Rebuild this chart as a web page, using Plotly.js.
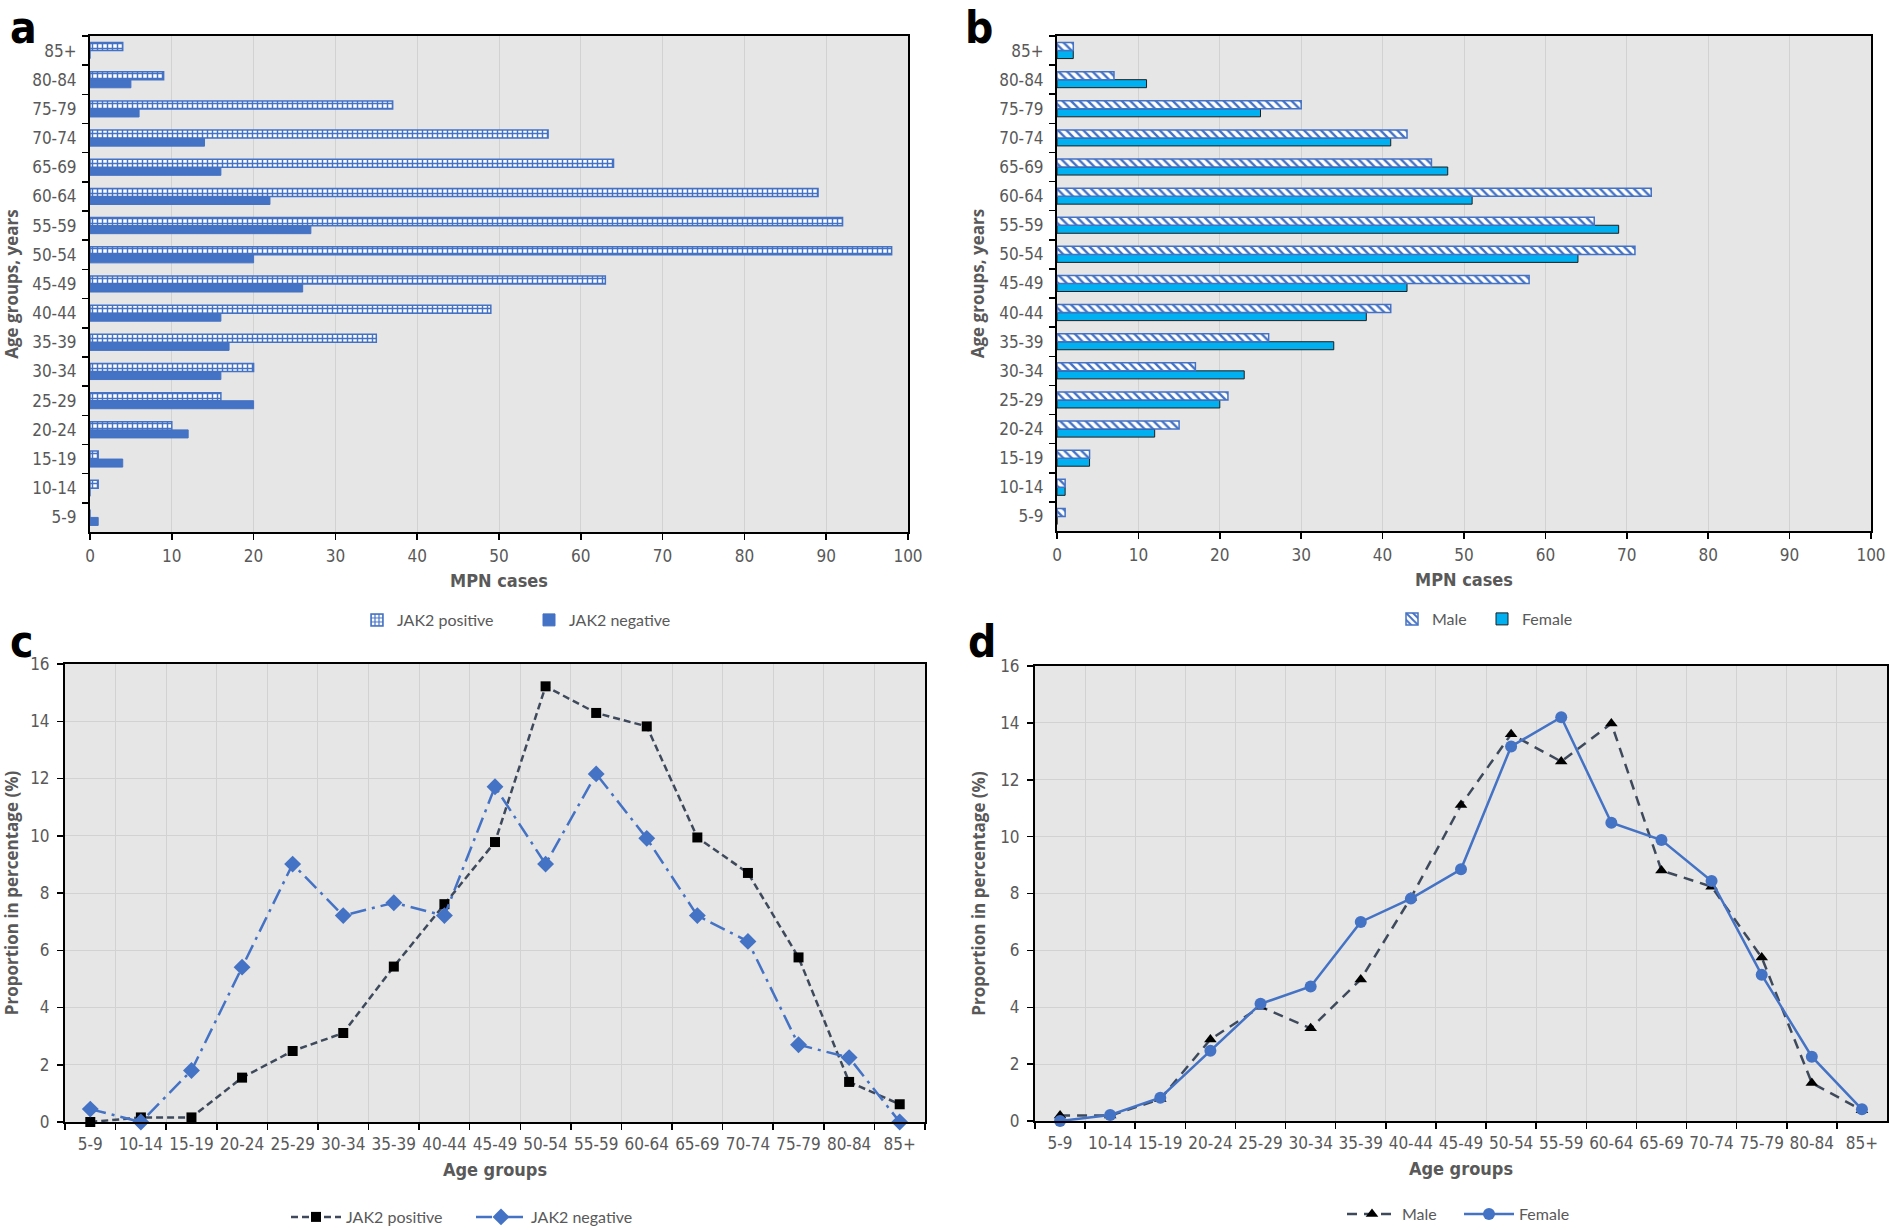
<!DOCTYPE html>
<html>
<head>
<meta charset="utf-8">
<script src="https://cdn.plot.ly/plotly-3.0.1.min.js"></script>
<style>
  html, body { margin: 0; padding: 0; background: #ffffff; }
  #chart { width: 1890px; height: 1230px; }
</style>
</head>
<body>
<div id="chart"></div>
<script>
// ---------- data ----------
const ageGroups = ['5-9','10-14','15-19','20-24','25-29','30-34','35-39','40-44','45-49','50-54','55-59','60-64','65-69','70-74','75-79','80-84','85+'];

// panel a: MPN cases by JAK2 status
const jak2PositiveCases = [0, 1, 1, 10, 16, 20, 35, 49, 63, 98, 92, 89, 64, 56, 37, 9, 4];
const jak2NegativeCases = [1, 0, 4, 12, 20, 16, 17, 16, 26, 20, 27, 22, 16, 14, 6, 5, 0];

// panel b: MPN cases by sex
const maleCases   = [1, 1, 4, 15, 21, 17, 26, 41, 58, 71, 66, 73, 46, 43, 30, 7, 2];
const femaleCases = [0, 1, 4, 12, 20, 23, 34, 38, 43, 64, 69, 51, 48, 41, 25, 11, 2];

// panel c: proportion (%) by JAK2 status
const jak2PositivePct = [0, 0.16, 0.16, 1.55, 2.48, 3.11, 5.43, 7.61, 9.78, 15.22, 14.29, 13.82, 9.94, 8.70, 5.75, 1.40, 0.62];
const jak2NegativePct = [0.45, 0, 1.80, 5.41, 9.01, 7.21, 7.66, 7.21, 11.71, 9.01, 12.16, 9.91, 7.21, 6.31, 2.70, 2.25, 0];

// panel d: proportion (%) by sex
const malePct   = [0.19, 0.19, 0.77, 2.87, 4.02, 3.26, 4.98, 7.85, 11.11, 13.60, 12.64, 13.98, 8.81, 8.24, 5.75, 1.34, 0.38];
const femalePct = [0, 0.21, 0.82, 2.47, 4.12, 4.73, 7.00, 7.82, 8.85, 13.17, 14.20, 10.49, 9.88, 8.44, 5.14, 2.26, 0.41];

const casesTicks = [0, 10, 20, 30, 40, 50, 60, 70, 80, 90, 100];
const pctTicks = [0, 2, 4, 6, 8, 10, 12, 14, 16];

// ---------- styling ----------
const W = 1890, H = 1230;
const px = v => v / W;
const py = v => 1 - v / H;
const BLUE = '#4472c4';
const CYAN = '#00b0f0';
const SLATE = '#3e4a5c';
const GRAY_TXT = '#595959';
const BG = '#e6e6e6';
const GRID = '#d2d2d2';
const TXT = 'Lato, Calibri, "Open Sans", sans-serif';
const NARROW = '"Liberation Sans Narrow", "Arial Narrow", "DejaVu Sans Condensed", Roboto, sans-serif';
const TITLE_Y = '"Open Sans", "Noto Sans", sans-serif';
const LETTER = '"Liberation Sans Narrow", "Arial Narrow", "DejaVu Sans Condensed", sans-serif';

const tickFont = {family: NARROW, size: 17, color: GRAY_TXT};
const xTitleFont = {family: NARROW, size: 18, color: GRAY_TXT, weight: 'bold'};
const yTitleFont = {family: TITLE_Y, size: 17, color: GRAY_TXT, weight: 'bold'};

function valueAxis(domain, tickvals, range, opts) {
  return Object.assign({
    domain: domain, range: range, tickvals: tickvals,
    showline: true, linecolor: '#000', linewidth: 2, mirror: true,
    ticks: 'outside', ticklen: 6, tickwidth: 1.5, tickcolor: '#000',
    showgrid: true, gridcolor: GRID, gridwidth: 1, zeroline: false,
    tickfont: tickFont, fixedrange: true, automargin: false
  }, opts || {});
}
function catAxis(domain, opts) {
  return Object.assign({
    domain: domain, type: 'category', categoryorder: 'array', categoryarray: ageGroups,
    range: [-0.5, 16.5], tickson: 'boundaries',
    showline: true, linecolor: '#000', linewidth: 2, mirror: true,
    ticks: 'outside', ticklen: 6, tickwidth: 1.5, tickcolor: '#000',
    tickfont: tickFont, tickangle: 0, zeroline: false, fixedrange: true, automargin: false
  }, opts || {});
}

const traces = [
  // panel a (negative first so it sits below positive inside each group)
  {type: 'bar', orientation: 'h', name: 'JAK2 negative', y: ageGroups, x: jak2NegativeCases,
   xaxis: 'x', yaxis: 'y', legend: 'legend', legendrank: 2,
   marker: {color: BLUE, line: {color: BLUE, width: 1}}},
  {type: 'bar', orientation: 'h', name: 'JAK2 positive', y: ageGroups, x: jak2PositiveCases,
   xaxis: 'x', yaxis: 'y', legend: 'legend', legendrank: 1,
   marker: {color: BLUE, line: {color: BLUE, width: 1.5},
            pattern: {shape: '+', fillmode: 'replace', fgcolor: BLUE, bgcolor: '#ffffff', size: 5, solidity: 0.5}}},
  // panel b
  {type: 'bar', orientation: 'h', name: 'Female', y: ageGroups, x: femaleCases,
   xaxis: 'x2', yaxis: 'y2', legend: 'legend2', legendrank: 2,
   marker: {color: CYAN, line: {color: '#1e1e1e', width: 1}}},
  {type: 'bar', orientation: 'h', name: 'Male', y: ageGroups, x: maleCases,
   xaxis: 'x2', yaxis: 'y2', legend: 'legend2', legendrank: 1,
   marker: {color: BLUE, line: {color: BLUE, width: 1.5},
            pattern: {shape: '\\', fillmode: 'replace', fgcolor: BLUE, bgcolor: '#ffffff', size: 6, solidity: 0.4}}},
  // panel c
  {type: 'scatter', mode: 'lines+markers', name: 'JAK2 positive', x: ageGroups, y: jak2PositivePct,
   xaxis: 'x3', yaxis: 'y3', legend: 'legend3', cliponaxis: false,
   line: {color: SLATE, width: 2.5, dash: '7px,4px'},
   marker: {symbol: 'square', color: '#000', size: 10}},
  {type: 'scatter', mode: 'lines+markers', name: 'JAK2 negative', x: ageGroups, y: jak2NegativePct,
   xaxis: 'x3', yaxis: 'y3', legend: 'legend3', cliponaxis: false,
   line: {color: BLUE, width: 2.5, dash: '16px,6px,3px,6px'},
   marker: {symbol: 'diamond', color: BLUE, size: 13}},
  // panel d
  {type: 'scatter', mode: 'lines+markers', name: 'Male', x: ageGroups, y: malePct,
   xaxis: 'x4', yaxis: 'y4', legend: 'legend4', cliponaxis: false,
   line: {color: SLATE, width: 2.5, dash: '10px,7px'},
   marker: {symbol: 'triangle-up', color: '#000', size: 11}},
  {type: 'scatter', mode: 'lines+markers', name: 'Female', x: ageGroups, y: femalePct,
   xaxis: 'x4', yaxis: 'y4', legend: 'legend4', cliponaxis: false,
   line: {color: BLUE, width: 2.5},
   marker: {symbol: 'circle', color: BLUE, size: 12}}
];

const legendBase = {
  orientation: 'h', xanchor: 'center', yanchor: 'middle',
  bgcolor: 'rgba(0,0,0,0)', font: {family: TXT, size: 16, color: GRAY_TXT},
  traceorder: 'normal', itemclick: false, itemdoubleclick: false
};

const letterFont = {family: LETTER, size: 44, color: '#000'};

const layout = {
  width: W, height: H,
  margin: {l: 0, r: 0, t: 0, b: 0, autoexpand: false},
  paper_bgcolor: '#ffffff',
  plot_bgcolor: BG,
  font: {family: TXT, color: GRAY_TXT},
  showlegend: true,
  barmode: 'group', bargap: 0.45, bargroupgap: 0,
  xaxis:  valueAxis([px(90), px(908)], casesTicks, [0, 100],
                    {anchor: 'y', ticklabelstandoff: 2, title: {text: 'MPN cases', font: xTitleFont, standoff: 9}}),
  yaxis:  catAxis([py(532), py(36)],
                  {anchor: 'x', showgrid: false, ticklabelstandoff: 8, title: {text: 'Age groups, years', font: yTitleFont, standoff: 10}}),
  xaxis2: valueAxis([px(1057), px(1871)], casesTicks, [0, 100],
                    {anchor: 'y2', ticklabelstandoff: 2, title: {text: 'MPN cases', font: xTitleFont, standoff: 9}}),
  yaxis2: catAxis([py(531), py(36)],
                  {anchor: 'x2', showgrid: false, ticklabelstandoff: 8, title: {text: 'Age groups, years', font: yTitleFont, standoff: 10}}),
  xaxis3: catAxis([px(65), px(925)],
                  {anchor: 'y3', showgrid: true, gridcolor: GRID, ticklabelstandoff: 6, title: {text: 'Age groups', font: xTitleFont, standoff: 10}}),
  yaxis3: valueAxis([py(1122), py(664)], pctTicks, [0, 16],
                    {anchor: 'x3', ticklabelstandoff: 4, title: {text: 'Proportion in percentage (%)', font: yTitleFont, standoff: 10}}),
  xaxis4: catAxis([px(1035), px(1887)],
                  {anchor: 'y4', showgrid: true, gridcolor: GRID, ticklabelstandoff: 6, title: {text: 'Age groups', font: xTitleFont, standoff: 10}}),
  yaxis4: valueAxis([py(1121), py(666)], pctTicks, [0, 16],
                    {anchor: 'x4', ticklabelstandoff: 4, title: {text: 'Proportion in percentage (%)', font: yTitleFont, standoff: 10}}),
  legend:  Object.assign({}, legendBase, {x: px(529), y: py(620), entrywidth: 127}),
  legend2: Object.assign({}, legendBase, {x: px(1482), y: py(619), entrywidth: 45}),
  legend3: Object.assign({}, legendBase, {x: px(471), y: py(1217), itemwidth: 50, entrywidth: 120}),
  legend4: Object.assign({}, legendBase, {x: px(1459), y: py(1214), itemwidth: 50, entrywidth: 52}),
  annotations: [
    {text: '<b>a</b>', x: px(8),   y: 1,       xref: 'paper', yref: 'paper', xanchor: 'left', yanchor: 'top', showarrow: false, font: letterFont},
    {text: '<b>b</b>', x: px(963), y: 1,       xref: 'paper', yref: 'paper', xanchor: 'left', yanchor: 'top', showarrow: false, font: letterFont},
    {text: '<b>c</b>', x: px(8),   y: py(641), xref: 'paper', yref: 'paper', xanchor: 'left', yanchor: 'middle', showarrow: false, font: letterFont},
    {text: '<b>d</b>', x: px(966), y: py(641), xref: 'paper', yref: 'paper', xanchor: 'left', yanchor: 'middle', showarrow: false, font: letterFont}
  ]
};

Plotly.newPlot('chart', traces, layout, {staticPlot: true, displayModeBar: false});
</script>
</body>
</html>
